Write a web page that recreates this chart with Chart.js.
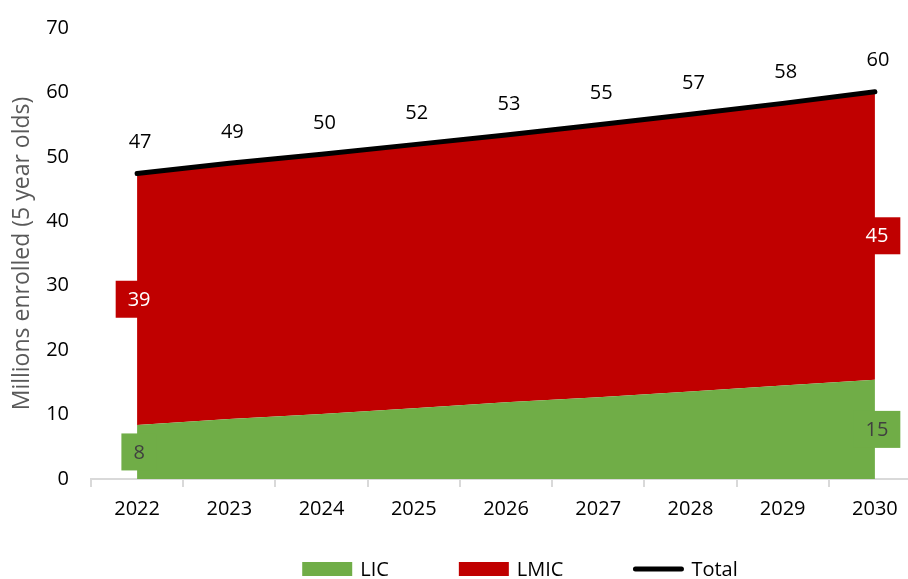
<!DOCTYPE html>
<html lang="en">
  <head>
    <meta charset="UTF-8" />
    <title>Enrolment projection</title>
    <style>
      body {
        margin: 0;
        overflow: hidden;
        background: #fff;
      }
      .chart-container {
        width: 930px;
        height: 579px;
      }
    </style>
  </head>
  <body>
    <div class="chart-container">
      <canvas id="enrolChart"></canvas>
    </div>

    <script src="https://cdn.jsdelivr.net/npm/chart.js"></script>
    <script>
      const years = ["2022", "2023", "2024", "2025", "2026", "2027", "2028", "2029", "2030"];
      const lic = [8.4, 9.3, 10.1, 11.0, 11.9, 12.7, 13.6, 14.5, 15.4];
      const lmic = [39.0, 39.7, 40.3, 40.9, 41.5, 42.3, 43.0, 43.8, 44.7];
      const total = [47.4, 49.0, 50.4, 51.9, 53.4, 55.0, 56.6, 58.3, 60.1];
      const yTicks = [0, 10, 20, 30, 40, 50, 60, 70];

      const FONT = "'Open Sans', sans-serif";
      const GREEN = "#70AD47";
      const RED = "#C00000";

      // data labels: totals above the line, boxed labels at both ends of the areas
      const labelPlugin = {
        id: "labels",
        afterDatasetsDraw(chart) {
          const ctx = chart.ctx;
          const y = chart.scales.y;
          ctx.save();
          ctx.font = "20px " + FONT;
          ctx.textAlign = "center";
          ctx.textBaseline = "middle";

          const totalMeta = chart.getDatasetMeta(2);
          totalMeta.data.forEach((pt, i) => {
            ctx.fillStyle = "#000";
            ctx.fillText(Math.round(total[i]), pt.x + 3, pt.y - 31);
          });

          const ends = [0, years.length - 1];
          [
            { idx: 0, vals: lic, base: null, color: GREEN, text: "#404040" },
            { idx: 1, vals: lmic, base: lic, color: RED, text: "#fff" },
          ].forEach((s) => {
            const meta = chart.getDatasetMeta(s.idx);
            ends.forEach((i) => {
              const b = s.base ? s.base[i] : 0;
              const cx = meta.data[i].x + 2;
              const ym = y.getPixelForValue(b + s.vals[i] / 2);
              const txt = String(Math.round(s.vals[i]));
              const w = ctx.measureText(txt).width + 24;
              ctx.fillStyle = s.color;
              ctx.fillRect(cx - w / 2, ym - 18.5, w, 37);
              ctx.fillStyle = s.text;
              ctx.fillText(txt, cx, ym + 1);
            });
          });
          ctx.restore();
        },
      };

      // legend at the bottom, drawn by hand to keep Excel spacing
      const legendPlugin = {
        id: "bottomLegend",
        afterDraw(chart) {
          const ctx = chart.ctx;
          ctx.save();
          ctx.font = "20px " + FONT;
          ctx.textBaseline = "middle";
          const items = chart.data.datasets.map((d) => ({
            label: d.label,
            color: d.legendColor,
            line: !d.fill,
          }));
          const sw = 50, gap = 8, spacing = 70;
          let width = 0;
          items.forEach((it, k) => {
            it.w = sw + gap + ctx.measureText(it.label).width;
            width += it.w + (k ? spacing : 0);
          });
          let x = 520 - width / 2;
          const cy = 569;
          items.forEach((it) => {
            if (it.line) {
              ctx.strokeStyle = it.color;
              ctx.lineWidth = 5;
              ctx.lineCap = "round";
              ctx.beginPath();
              ctx.moveTo(x + 2, cy);
              ctx.lineTo(x + sw - 2, cy);
              ctx.stroke();
            } else {
              ctx.fillStyle = it.color;
              ctx.fillRect(x, cy - 7, sw, 14);
            }
            ctx.fillStyle = "#000";
            ctx.fillText(it.label, x + sw + gap, cy + 1);
            x += it.w + spacing;
          });
          ctx.restore();
        },
      };

      const config = {
        type: "line",
        data: {
          labels: years,
          datasets: [
            {
              label: "LIC",
              data: lic,
              backgroundColor: GREEN,
              legendColor: GREEN,
              borderWidth: 0,
              pointRadius: 0,
              fill: "origin",
              stack: "areas",
            },
            {
              label: "LMIC",
              data: lmic,
              backgroundColor: RED,
              legendColor: RED,
              borderWidth: 0,
              pointRadius: 0,
              fill: "-1",
              stack: "areas",
            },
            {
              label: "Total",
              data: total,
              borderColor: "#000",
              legendColor: "#000",
              borderWidth: 5,
              borderCapStyle: "round",
              pointRadius: 0,
              fill: false,
              stack: "total",
              order: -1,
            },
          ],
        },
        options: {
          responsive: true,
          maintainAspectRatio: false,
          animation: false,
          layout: { padding: { top: 28, right: 9, bottom: 0, left: 0 } },
          plugins: {
            legend: { display: false },
            tooltip: { enabled: false },
          },
          scales: {
            x: {
              offset: true,
              grid: {
                offset: true,
                drawOnChartArea: false,
                drawTicks: true,
                tickLength: 8,
                color: "#d9d9d9",
                lineWidth: 2,
              },
              border: { color: "#d9d9d9", width: 2 },
              ticks: {
                color: "#000",
                font: { family: FONT, size: 20 },
                padding: 10,
                maxRotation: 0,
              },
              afterFit(scale) {
                scale.height = 100;
              },
            },
            y: {
              stacked: true,
              min: 0,
              max: 70,
              afterBuildTicks(scale) {
                scale.ticks = yTicks.map((v) => ({ value: v }));
              },
              grid: { display: false, drawTicks: false },
              border: { display: false },
              ticks: {
                color: "#000",
                font: { family: FONT, size: 20 },
                padding: 22,
              },
              title: {
                display: true,
                text: "Millions enrolled (5 year olds)",
                color: "#595959",
                font: { family: FONT, size: 23 },
                padding: { top: 9, bottom: 0 },
              },
              afterFit(scale) {
                scale.width = 91;
                scale.paddingTop = 12;
              },
            },
          },
        },
        plugins: [labelPlugin, legendPlugin],
      };

      new Chart(document.getElementById("enrolChart"), config);
    </script>
  </body>
</html>
